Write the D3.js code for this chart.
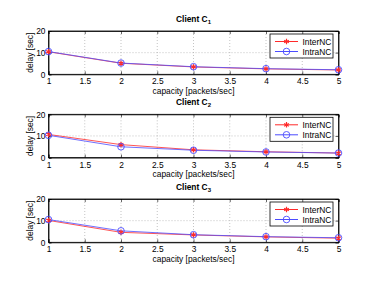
<!DOCTYPE html>
<html><head><meta charset="utf-8">
<script src="https://cdn.jsdelivr.net/npm/d3@7"></script>
<style>body{margin:0;background:#fff}svg{display:block}text{font-family:"Liberation Sans",Arial,sans-serif}</style>
</head><body><svg id="c" width="374" height="281"></svg>
<script>
const capacity = [1, 2, 3, 4, 5];
const clients = ["1", "2", "3"];
const interNC = [
  [10.4, 5.1, 3.4, 2.5, 2.0],
  [10.7, 6.0, 3.6, 2.7, 2.1],
  [10.1, 4.6, 3.4, 2.5, 1.9]
];
const intraNC = [
  [10.5, 5.2, 3.5, 2.6, 2.1],
  [10.3, 5.0, 3.4, 2.6, 2.1],
  [10.5, 5.3, 3.5, 2.6, 2.1]
];
const xTicks = [1, 1.5, 2, 2.5, 3, 3.5, 4, 4.5, 5];
const yTicks = [0, 10, 20];
const seriesNames = ["InterNC", "IntraNC"];

const svg = d3.select("#c");
const left = 48.5, right = 338.5;
const tops = [31, 114.3, 199];
const ph = 43.3;
const fs = 8.4;
const x = d3.scaleLinear().domain([1, 5]).range([left, right]);
const red = "#ff2a2a", blue = "#4c4cff";

tops.forEach((t, i) => {
  const y = d3.scaleLinear().domain([0, 20]).range([t + ph, t]);
  const g = svg.append("g");
  g.selectAll(".gx").data(xTicks.slice(1, -1)).enter().append("line")
    .attr("x1", d => x(d)).attr("x2", d => x(d)).attr("y1", t).attr("y2", t + ph)
    .attr("stroke", "#aaa").attr("stroke-width", 0.7).attr("stroke-dasharray", "1,2");
  g.selectAll(".gy").data(yTicks.slice(1, -1)).enter().append("line")
    .attr("x1", left).attr("x2", right).attr("y1", d => y(d)).attr("y2", d => y(d))
    .attr("stroke", "#aaa").attr("stroke-width", 0.7).attr("stroke-dasharray", "1,2");
  g.append("g").attr("transform", `translate(0,${t + ph})`)
    .call(d3.axisBottom(x).tickValues(xTicks).tickSize(-3).tickPadding(4).tickFormat(d3.format("")));
  g.append("g").attr("transform", `translate(${left},0)`)
    .call(d3.axisLeft(y).tickValues(yTicks).tickSize(-3).tickPadding(3));
  g.append("g").attr("transform", `translate(0,${t})`)
    .call(d3.axisTop(x).tickValues(xTicks).tickSize(-3).tickFormat(""));
  g.append("g").attr("transform", `translate(${right},0)`)
    .call(d3.axisRight(y).tickValues(yTicks).tickSize(-3).tickFormat(""));
  g.selectAll(".domain").attr("stroke", "#000").attr("stroke-width", 0.8);
  g.selectAll(".tick line").attr("stroke", "#000").attr("stroke-width", 0.6);
  g.selectAll(".tick text").attr("font-size", fs).attr("fill", "#000");
  g.append("rect").attr("x", left).attr("y", t).attr("width", right - left).attr("height", ph)
    .attr("fill", "none").attr("stroke", "#000").attr("stroke-width", 0.8);

  g.append("text").attr("x", (left + right) / 2).attr("y", t + ph + 19.5)
    .attr("text-anchor", "middle").attr("font-size", fs).text("capacity [packets/sec]");
  g.append("text").attr("transform", `translate(32.5,${t + ph / 2}) rotate(-90)`)
    .attr("text-anchor", "middle").attr("font-size", fs).text("delay [sec]");
  const title = g.append("text").attr("x", (left + right) / 2).attr("y", t - 9.5)
    .attr("text-anchor", "middle").attr("font-size", 8.4).attr("font-weight", "bold");
  title.append("tspan").text("Client C");
  title.append("tspan").attr("font-size", 6).attr("dy", 2.5).text(clients[i]);

  const line = d3.line().x((d, j) => x(capacity[j])).y(d => y(d));
  g.append("path").datum(interNC[i]).attr("d", line).attr("fill", "none")
    .attr("stroke", red).attr("stroke-width", 1).attr("stroke-opacity", 0.8);
  g.append("path").datum(intraNC[i]).attr("d", line).attr("fill", "none")
    .attr("stroke", blue).attr("stroke-width", 1).attr("stroke-opacity", 0.8);
  const star = d3.symbol().type(d3.symbolAsterisk).size(20);
  g.selectAll(".s").data(interNC[i]).enter().append("path")
    .attr("transform", (d, j) => `translate(${x(capacity[j])},${y(d)})`)
    .attr("d", star).attr("stroke", red).attr("stroke-width", 1.2).attr("fill", "none");
  g.selectAll(".o").data(intraNC[i]).enter().append("circle")
    .attr("cx", (d, j) => x(capacity[j])).attr("cy", d => y(d)).attr("r", 3.3)
    .attr("fill", "none").attr("stroke", blue).attr("stroke-width", 0.9);

  const lx = 270, ly = t + 3, lw = 63, lh = 24;
  const lg = g.append("g");
  lg.append("rect").attr("x", lx).attr("y", ly).attr("width", lw).attr("height", lh)
    .attr("fill", "#fff").attr("stroke", "#000").attr("stroke-width", 0.8);
  seriesNames.forEach((nm, k) => {
    const yy = ly + 7.5 + k * 10;
    const col = k === 0 ? red : blue;
    lg.append("line").attr("x1", lx + 5).attr("x2", lx + 28).attr("y1", yy).attr("y2", yy)
      .attr("stroke", col).attr("stroke-width", 1);
    if (k === 0) lg.append("path").attr("transform", `translate(${lx + 16.5},${yy})`).attr("d", star)
      .attr("stroke", col).attr("stroke-width", 1.2).attr("fill", "none");
    else lg.append("circle").attr("cx", lx + 16.5).attr("cy", yy).attr("r", 3.3)
      .attr("fill", "none").attr("stroke", col).attr("stroke-width", 0.9);
    lg.append("text").attr("x", lx + 32.5).attr("y", yy + 3).attr("font-size", fs).text(nm);
  });
});
</script></body></html>
